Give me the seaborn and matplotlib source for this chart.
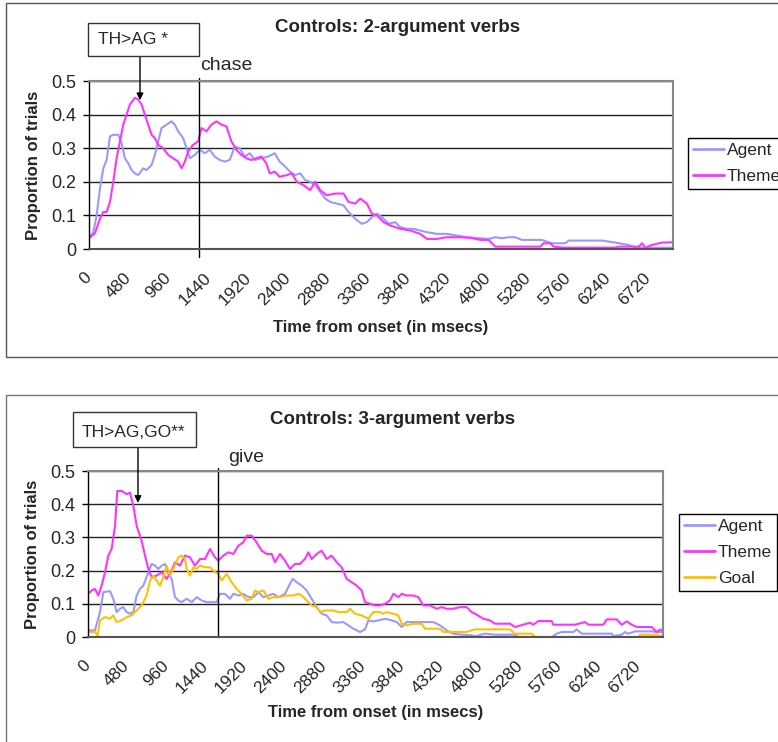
import numpy as np
import pandas as pd
import matplotlib
matplotlib.use('Agg')
import matplotlib.pyplot as plt
from matplotlib.patches import Rectangle
import seaborn as sns

# ---- data (time in ms / proportion of trials) ----
top_agent_t = [0, 52, 92, 132, 172, 212, 252, 292, 352, 392,
               432, 472, 512, 552, 592, 652, 692, 752, 792, 832,
               872, 932, 992, 1032, 1072, 1132, 1172, 1212, 1272, 1332,
               1392, 1452, 1512, 1572, 1632, 1692, 1752, 1812, 1872, 1932,
               1992, 2072, 2152, 2232, 2292,
               2358, 2418, 2478, 2539, 2599, 2659, 2719, 2779, 2839, 2900,
               2980, 3060, 3120, 3200, 3280, 3341, 3401, 3461, 3521, 3601,
               3681, 3742, 3822, 3902, 3982, 4062, 4183, 4303, 4423, 4544,
               4704,
               4803, 4884, 4964, 5044, 5124, 5204, 5445, 5565, 5726, 5766,
               6167, 6327, 6488, 6568, 7017]
top_agent_v = [0.032, 0.05, 0.10, 0.18, 0.24, 0.265, 0.335, 0.34, 0.34, 0.315,
               0.27, 0.255, 0.235, 0.225, 0.22, 0.24, 0.235, 0.25, 0.28, 0.32,
               0.36, 0.37, 0.38, 0.37, 0.35, 0.33, 0.30, 0.27, 0.28, 0.295,
               0.285, 0.295, 0.275, 0.265, 0.26, 0.265, 0.305, 0.30, 0.275, 0.285,
               0.265, 0.27, 0.275, 0.285, 0.26,
               0.245, 0.23, 0.22, 0.225, 0.205, 0.20, 0.19, 0.17, 0.15, 0.14,
               0.135, 0.13, 0.11, 0.09, 0.075, 0.08, 0.095, 0.105, 0.095, 0.075,
               0.08, 0.065, 0.06, 0.06, 0.055, 0.05, 0.045, 0.045, 0.04, 0.035,
               0.032,
               0.03, 0.035, 0.032, 0.035, 0.035, 0.027, 0.027, 0.017, 0.017, 0.025,
               0.025, 0.019, 0.012, 0.004, 0.004]

top_theme_t = [0, 72, 132, 172, 212, 252, 292, 332, 372, 412,
               452, 492, 552, 592, 632, 672, 712, 752, 792, 832,
               892, 952, 1012, 1072, 1112, 1152, 1192, 1252, 1312, 1352,
               1412, 1472, 1532, 1592, 1652, 1712, 1772, 1832, 1892, 1952,
               2012, 2072, 2132, 2172, 2232, 2292,
               2378, 2438, 2498, 2579, 2659, 2719, 2779, 2859, 2960, 3060,
               3120, 3200, 3260, 3341, 3401, 3461, 3541, 3621, 3742, 3862,
               3982, 4062, 4183, 4303, 4463, 4584, 4704,
               4803, 4884, 5044, 5425, 5465, 5545, 5585, 5706, 6327, 6367,
               6608, 6648, 6688, 6768, 6889, 7017]
top_theme_v = [0.032, 0.047, 0.09, 0.11, 0.11, 0.14, 0.20, 0.27, 0.32, 0.37,
               0.40, 0.43, 0.45, 0.445, 0.43, 0.40, 0.37, 0.34, 0.33, 0.31,
               0.30, 0.28, 0.27, 0.26, 0.24, 0.26, 0.29, 0.31, 0.32, 0.36,
               0.35, 0.37, 0.38, 0.37, 0.365, 0.32, 0.295, 0.28, 0.27, 0.265,
               0.27, 0.275, 0.255, 0.225, 0.23, 0.215,
               0.22, 0.225, 0.20, 0.19, 0.175, 0.20, 0.175, 0.16, 0.165, 0.165,
               0.14, 0.135, 0.15, 0.135, 0.105, 0.10, 0.08, 0.07, 0.06, 0.055,
               0.045, 0.03, 0.03, 0.035, 0.035, 0.033, 0.027,
               0.027, 0.007, 0.007, 0.007, 0.017, 0.017, 0.007, 0.004, 0.004, 0.007,
               0.007, 0.017, 0.004, 0.012, 0.019, 0.02]

bot_agent_t = [0, 85, 147, 187, 269, 309, 350, 391, 431, 472,
               513, 554, 594, 635, 676, 737, 777, 818, 859, 899,
               940, 981, 1022, 1062, 1103, 1144, 1205, 1266, 1327, 1388,
               1449, 1510, 1571, 1612, 1673, 1734, 1775, 1836, 1897, 1958,
               2019, 2080, 2141, 2202, 2263, 2324,
               2405, 2466, 2499, 2548, 2609, 2670, 2731, 2792, 2853, 2914,
               2975, 3036, 3117, 3178, 3239, 3321, 3382, 3423, 3484, 3545,
               3626, 3707, 3769, 3830, 3891, 3972, 4094, 4216, 4298, 4379,
               4460, 4562, 4684,
               4725, 4847, 4969, 5213, 5254, 5661, 5722, 5783, 5926, 5966,
               6027, 6394, 6414, 6516, 6557, 6597, 6679, 6882, 6943, 7025]
bot_agent_v = [0.02, 0.02, 0.075, 0.135, 0.138, 0.115, 0.075, 0.085, 0.09, 0.075,
               0.07, 0.075, 0.125, 0.145, 0.155, 0.195, 0.22, 0.215, 0.205, 0.215,
               0.22, 0.19, 0.175, 0.12, 0.11, 0.105, 0.115, 0.105, 0.12, 0.11,
               0.105, 0.105, 0.105, 0.13, 0.13, 0.115, 0.13, 0.125, 0.13, 0.12,
               0.12, 0.135, 0.12, 0.125, 0.13, 0.12,
               0.13, 0.16, 0.175, 0.165, 0.155, 0.14, 0.115, 0.09, 0.07, 0.065,
               0.045, 0.043, 0.045, 0.035, 0.025, 0.015, 0.023, 0.05, 0.047, 0.05,
               0.055, 0.05, 0.045, 0.03, 0.045, 0.045, 0.045, 0.045, 0.035, 0.02,
               0.01, 0.007, 0.005,
               0.002, 0.01, 0.007, 0.007, 0.0, 0.0, 0.01, 0.015, 0.015, 0.023,
               0.01, 0.01, 0.003, 0.007, 0.015, 0.01, 0.017, 0.017, 0.015, 0.015]

bot_theme_t = [0, 45, 85, 126, 167, 208, 248, 289, 330, 358,
               411, 472, 513, 554, 594, 655, 696, 737, 777, 838,
               899, 961, 1022, 1062, 1123, 1184, 1245, 1306, 1368, 1429,
               1490, 1551, 1591, 1652, 1713, 1775, 1836, 1897, 1937, 1998,
               2059, 2120, 2182, 2243, 2283,
               2344, 2405, 2466, 2527, 2588, 2649, 2690, 2731, 2792, 2853,
               2914, 2975, 3036, 3097, 3158, 3219, 3280, 3341, 3382, 3443,
               3504, 3565, 3626, 3687, 3728, 3789, 3830, 3891, 3972, 4033,
               4094, 4176, 4257, 4318, 4379, 4460, 4542, 4623, 4684,
               4725, 4827, 4908, 4969, 5152, 5213, 5397, 5437, 5498, 5661,
               5681, 5946, 6068, 6109, 6292, 6333, 6455, 6516, 6577, 6638,
               6699, 6882, 6943, 6984, 7025]
bot_theme_v = [0.13, 0.14, 0.145, 0.125, 0.155, 0.195, 0.245, 0.265, 0.335, 0.44,
               0.44, 0.43, 0.435, 0.395, 0.335, 0.29, 0.245, 0.205, 0.18, 0.185,
               0.195, 0.175, 0.20, 0.225, 0.215, 0.245, 0.24, 0.215, 0.235, 0.235,
               0.265, 0.24, 0.23, 0.245, 0.255, 0.25, 0.275, 0.285, 0.305, 0.305,
               0.285, 0.26, 0.25, 0.25, 0.225,
               0.25, 0.23, 0.205, 0.22, 0.22, 0.235, 0.255, 0.235, 0.25, 0.26,
               0.235, 0.245, 0.225, 0.21, 0.175, 0.165, 0.155, 0.14, 0.105, 0.10,
               0.095, 0.095, 0.10, 0.11, 0.13, 0.12, 0.13, 0.125, 0.125, 0.12,
               0.095, 0.095, 0.085, 0.09, 0.085, 0.085, 0.09, 0.09, 0.075,
               0.07, 0.055, 0.05, 0.04, 0.04, 0.03, 0.043, 0.037, 0.048, 0.048,
               0.037, 0.037, 0.045, 0.037, 0.037, 0.053, 0.053, 0.037, 0.047, 0.037,
               0.03, 0.03, 0.015, 0.022, 0.02]

bot_goal_t = [0, 85, 118, 147, 208, 269, 309, 350, 411, 472,
              533, 594, 655, 716, 757, 798, 838, 879, 920, 961,
              1001, 1042, 1103, 1144, 1184, 1205, 1245, 1286, 1327, 1368,
              1429, 1490, 1551, 1591, 1632, 1693, 1754, 1815, 1876, 1937,
              1998, 2039, 2080, 2141, 2202, 2263, 2324,
              2425, 2507, 2568, 2609, 2670, 2731, 2792, 2832, 2893, 2995,
              3056, 3158, 3199, 3260, 3341, 3423, 3484, 3565, 3606, 3646,
              3728, 3789, 3830, 3891, 3972, 4074, 4114, 4298, 4338, 4460,
              4623,
              4725, 5152, 5213, 5417, 5458, 6719, 6740, 6943, 6984, 7025]
bot_goal_v = [0.015, 0.015, 0.005, 0.05, 0.06, 0.055, 0.065, 0.045, 0.05, 0.06,
              0.065, 0.08, 0.095, 0.125, 0.17, 0.185, 0.17, 0.155, 0.18, 0.215,
              0.185, 0.205, 0.24, 0.245, 0.235, 0.205, 0.185, 0.21, 0.205, 0.215,
              0.21, 0.21, 0.195, 0.19, 0.17, 0.19, 0.165, 0.145, 0.13, 0.11,
              0.115, 0.14, 0.135, 0.14, 0.115, 0.12, 0.12,
              0.125, 0.125, 0.13, 0.125, 0.11, 0.095, 0.09, 0.075, 0.08, 0.08,
              0.075, 0.075, 0.085, 0.07, 0.065, 0.055, 0.075, 0.075, 0.07, 0.075,
              0.07, 0.065, 0.04, 0.035, 0.04, 0.04, 0.025, 0.025, 0.015, 0.015,
              0.015,
              0.023, 0.023, 0.01, 0.01, 0.0, 0.0, 0.007, 0.007, 0.003, 0.005]

x_ticks = list(range(0, 7000, 480))
y_ticks = [0, 0.1, 0.2, 0.3, 0.4, 0.5]
y_labels = ['0', '0.1', '0.2', '0.3', '0.4', '0.5']

verb_onset = {'chase': 1320, 'give': 1590}
peak_marks = {'top': (613, 0.443), 'bottom': (610, 0.404)}

palette = {'Agent': '#9999FF', 'Theme': '#FF33FF', 'Goal': '#FFC000'}


def long_df(series):
    parts = []
    for name, t, v in series:
        parts.append(pd.DataFrame({'time': t, 'prop': v, 'role': name}))
    return pd.concat(parts, ignore_index=True)


top_df = long_df([('Agent', top_agent_t, top_agent_v),
                  ('Theme', top_theme_t, top_theme_v)])
bot_df = long_df([('Agent', bot_agent_t, bot_agent_v),
                  ('Theme', bot_theme_t, bot_theme_v),
                  ('Goal', bot_goal_t, bot_goal_v)])

sns.set_style('white')
plt.rcParams['font.family'] = ['Liberation Sans', 'DejaVu Sans']

W, H = 778, 742
fig = plt.figure(figsize=(W / 100, H / 100), dpi=100)


def fx(px):
    return px / W


def fy(py):
    return 1 - py / H


# panel frames
fig.add_artist(Rectangle((fx(6), fy(357)), 1.2, (357 - 3) / H, transform=fig.transFigure,
                         fill=False, ec='#555555', lw=1, zorder=0))
fig.add_artist(Rectangle((fx(6), fy(780)), 1.2, (780 - 395) / H, transform=fig.transFigure,
                         fill=False, ec='#777777', lw=1, zorder=0))

ax1 = fig.add_axes([fx(89), fy(249), (673 - 89) / W, (249 - 81) / H])
ax2 = fig.add_axes([fx(88), fy(637), (663 - 88) / W, (637 - 471) / H])


def draw(ax, df, order):
    sns.lineplot(data=df, x='time', y='prop', hue='role', hue_order=order,
                 palette=palette, estimator=None, sort=True, lw=1.5, ax=ax)
    ax.set_xlim(0, 7020)
    ax.set_ylim(0, 0.5)
    ax.set_xticks(x_ticks)
    ax.set_xticklabels([str(t) for t in x_ticks], rotation=45, ha='right',
                       va='center', rotation_mode='anchor')
    ax.set_yticks(y_ticks)
    ax.set_yticklabels(y_labels)
    ax.tick_params(axis='x', length=0, pad=19, labelsize=12.5)
    ax.tick_params(axis='y', left=True, length=4, width=1, color='black', pad=5,
                   labelsize=13)
    ax.grid(axis='y', color='#222222', lw=1)
    ax.set_axisbelow(True)
    ax.set_xlabel('')
    ax.set_ylabel('')
    ax.spines['left'].set_color('black')
    ax.spines['left'].set_linewidth(1)
    ax.spines['bottom'].set_color('#555555')
    ax.spines['bottom'].set_linewidth(1.5)
    for s in ('top', 'right'):
        ax.spines[s].set_color('#888888')
        ax.spines[s].set_linewidth(1.5)
    handles, labels = ax.get_legend_handles_labels()
    ax.get_legend().remove()
    return handles, labels


h1, l1 = draw(ax1, top_df, ['Agent', 'Theme'])
h2, l2 = draw(ax2, bot_df, ['Agent', 'Theme', 'Goal'])

# legend boxes sit partly past the right edge, as in the original screenshot
leg_kw = dict(loc='upper left', bbox_transform=fig.transFigure, fontsize=12.5,
              frameon=True, fancybox=False, edgecolor='black', framealpha=1,
              handlelength=1.8, handletextpad=0.15, labelspacing=0.62,
              borderpad=0.3, borderaxespad=0)
lg1 = fig.legend(h1, l1, bbox_to_anchor=(fx(688), fy(138)), **leg_kw)
lg2 = fig.legend(h2, l2, bbox_to_anchor=(fx(679), fy(514)), **leg_kw)
for lg in (lg1, lg2):
    lg.get_frame().set_linewidth(1)
    for ln in lg.get_lines():
        ln.set_linewidth(2)

# verb onset lines
ax1.axvline(verb_onset['chase'], ymin=-0.048, ymax=1.018, color='black', lw=1, clip_on=False)
ax2.axvline(verb_onset['give'], ymin=0, ymax=1.018, color='black', lw=1, clip_on=False)
fig.text(fx(200), fy(66), 'chase', ha='left', va='center', fontsize=14)
fig.text(fx(228), fy(457), 'give', ha='left', va='center', fontsize=14)

# titles and axis labels
fig.text(fx(398), fy(28), 'Controls: 2-argument verbs', ha='center', va='center',
         fontsize=13.5, weight='bold')
fig.text(fx(392.5), fy(420), 'Controls: 3-argument verbs', ha='center', va='center',
         fontsize=13.5, weight='bold')
fig.text(fx(381), fy(327), 'Time from onset (in msecs)', ha='center', va='center',
         fontsize=12, weight='bold')
fig.text(fx(375.5), fy(712), 'Time from onset (in msecs)', ha='center', va='center',
         fontsize=12, weight='bold')
fig.text(fx(34), fy(165), 'Proportion of trials', rotation=90, ha='center', va='center',
         fontsize=12, weight='bold')
fig.text(fx(33), fy(554), 'Proportion of trials', rotation=90, ha='center', va='center',
         fontsize=12, weight='bold')

# significance call-outs
fig.add_artist(Rectangle((fx(88), fy(56)), (199 - 88) / W, (56 - 23) / H,
                         transform=fig.transFigure, fill=True, fc='white', ec='#333333', lw=1))
fig.text(fx(98), fy(40), 'TH>AG *', ha='left', va='center', fontsize=12.5)
ax1.annotate('', xy=peak_marks['top'], xycoords='data',
             xytext=(fx(140), fy(56)), textcoords='figure fraction',
             arrowprops=dict(arrowstyle='-|>', color='black', lw=1,
                             mutation_scale=10, shrinkA=0, shrinkB=0))

fig.add_artist(Rectangle((fx(73), fy(447)), (196 - 73) / W, (447 - 412) / H,
                         transform=fig.transFigure, fill=True, fc='white', ec='#333333', lw=1))
fig.text(fx(82), fy(432), 'TH>AG,GO**', ha='left', va='center', fontsize=12.5)
ax2.annotate('', xy=peak_marks['bottom'], xycoords='data',
             xytext=(fx(138), fy(447)), textcoords='figure fraction',
             arrowprops=dict(arrowstyle='-|>', color='black', lw=1,
                             mutation_scale=10, shrinkA=0, shrinkB=0))

fig.savefig('out.png', dpi=100)
